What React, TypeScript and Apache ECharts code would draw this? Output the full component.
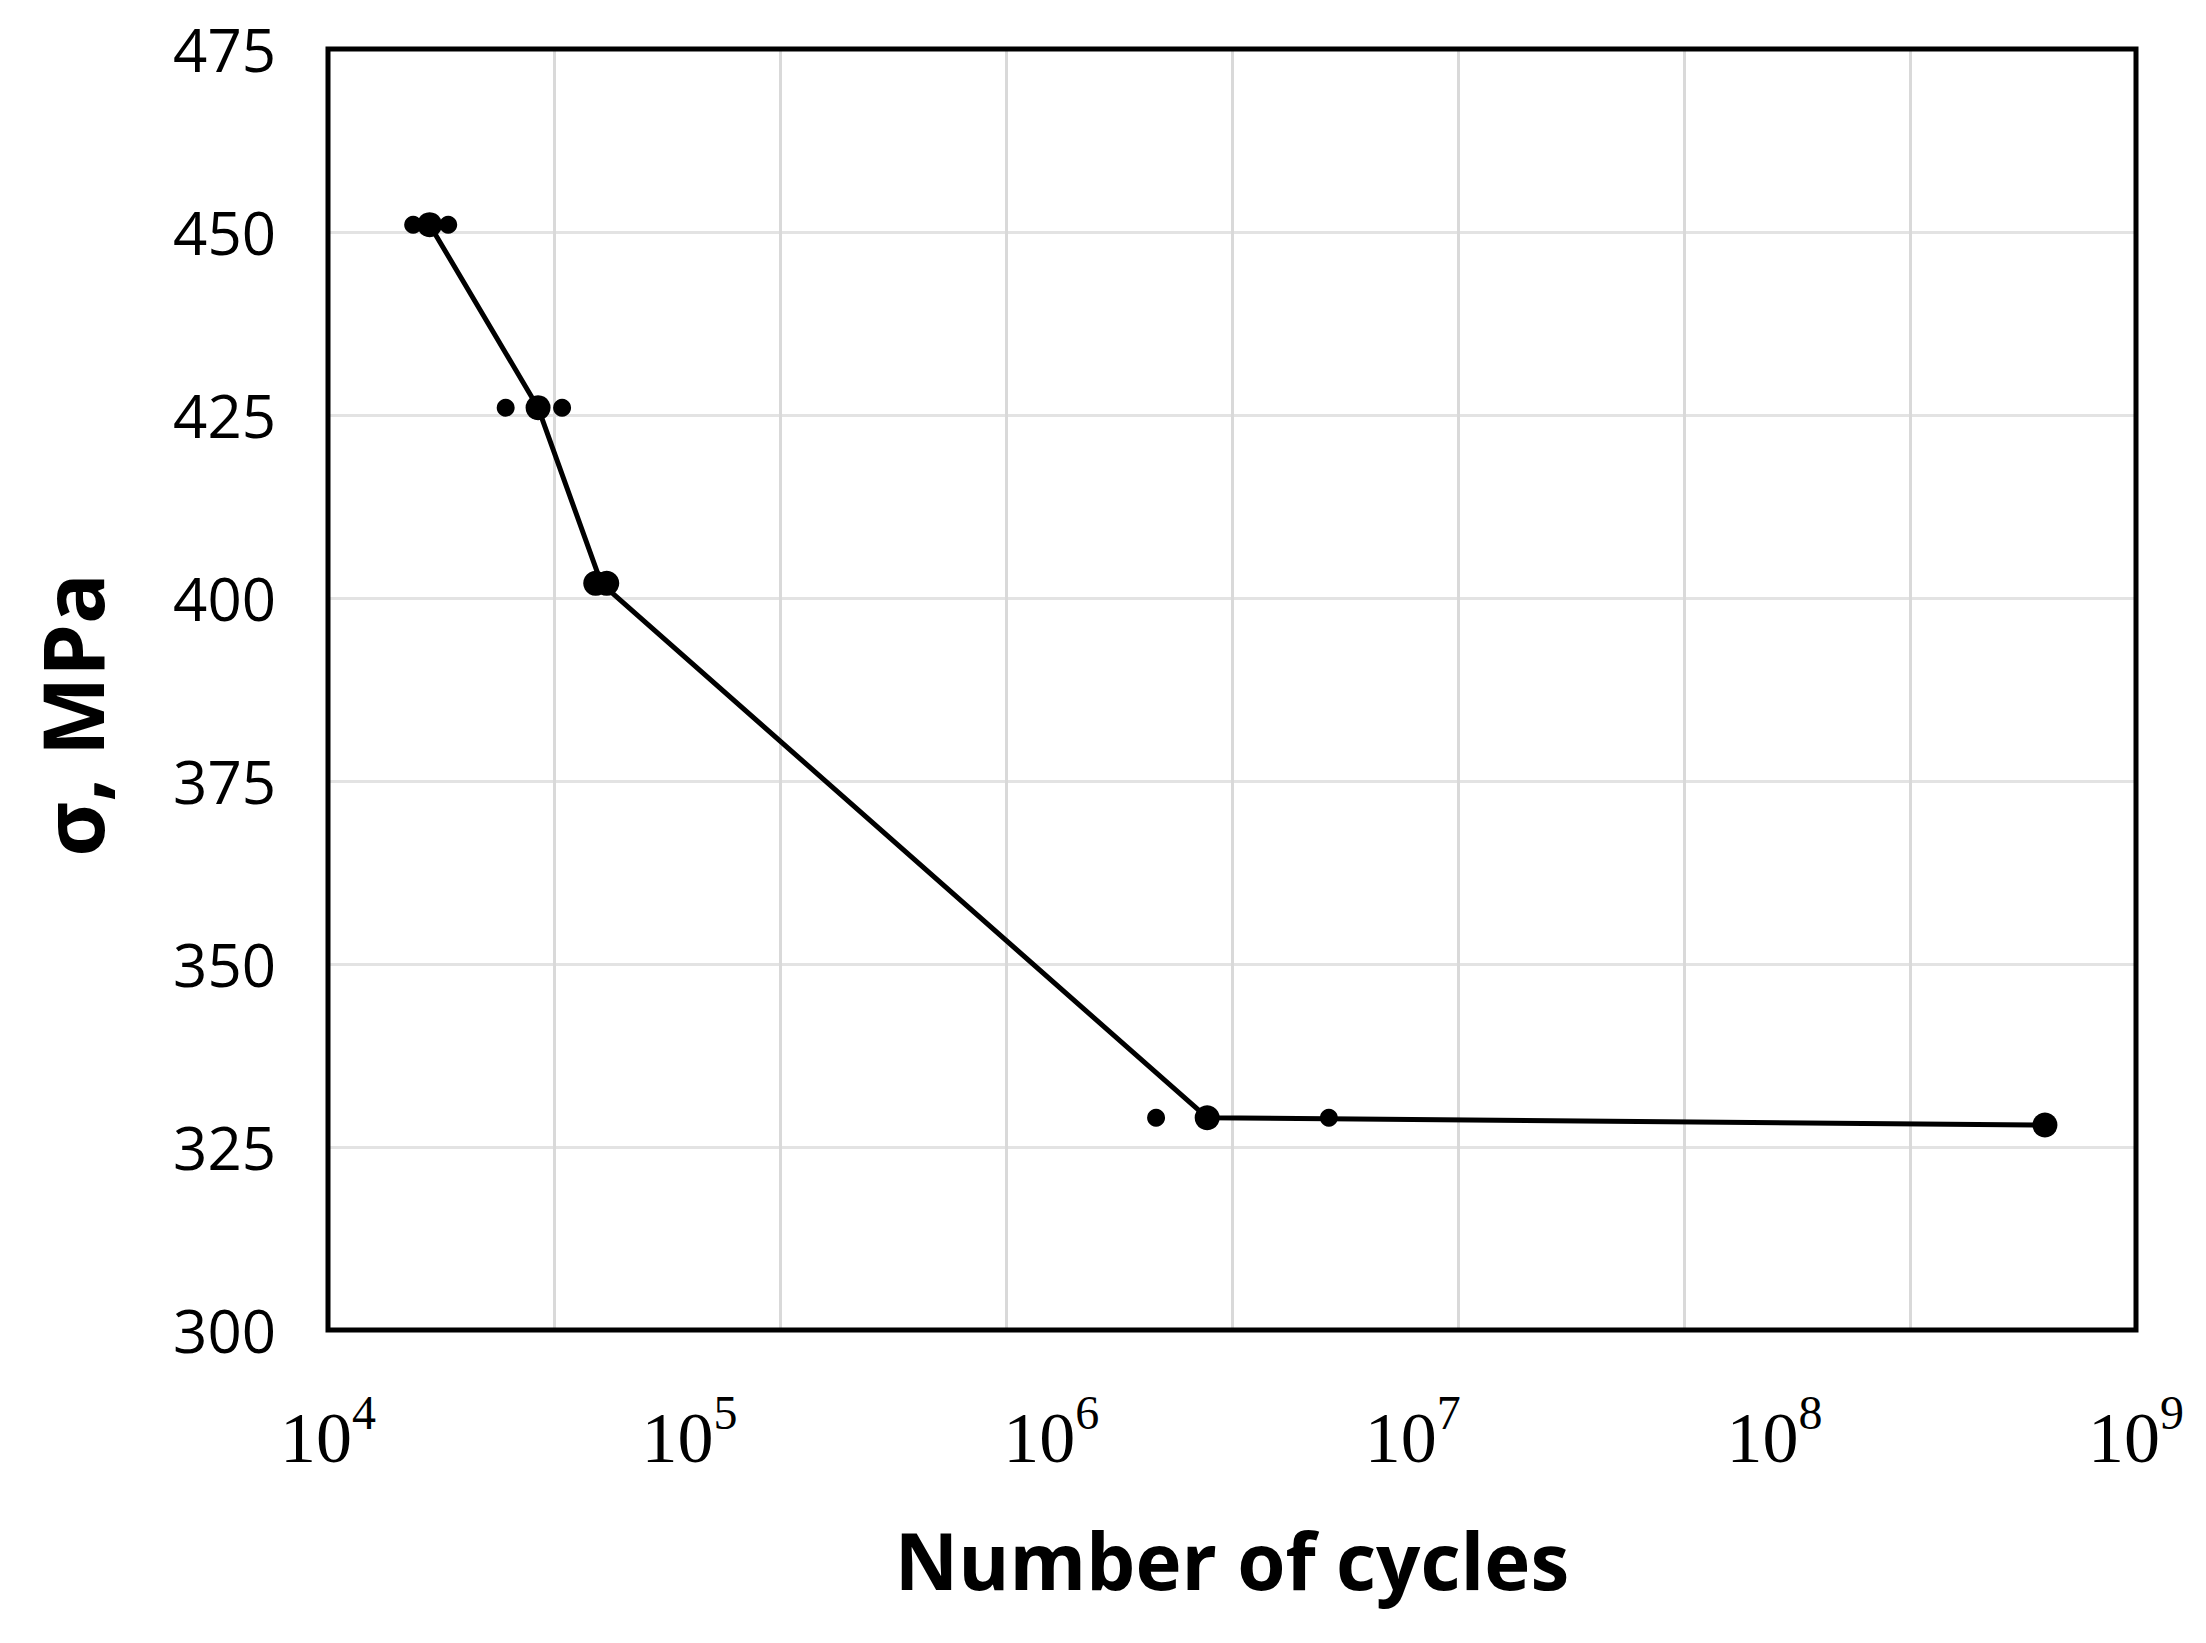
import React, { useEffect, useRef } from "react";
import * as echarts from "echarts";

// Mean curve (S-N line)
const lineCycles = [19100, 38100, 57000, 2700000, 560000000];
const lineStress = [451, 426, 402, 329, 328];
// Individual test results (small markers)
const smallCycles = [17200, 21500, 31000, 44400, 1950000, 5860000];
const smallStress = [451, 451, 426, 426, 329, 329];
// Individual test results (large markers)
const bigCycles = [19100, 38100, 55000, 59000, 2700000, 560000000];
const bigStress = [451, 426, 402, 402, 329, 328];
// Axis ticks
const xExponents = [4, 5, 6, 7, 8, 9];
const yTicks = [300, 325, 350, 375, 400, 425, 450, 475];
const gridDivisions = 8;

const xTitle = "Number of cycles";
const yTitle = "σ, MPa";

export default function App() {
  const ref = useRef<HTMLDivElement>(null);
  useEffect(() => {
    if (!ref.current) return;
    const chart = echarts.init(ref.current, undefined, { renderer: "svg" });
    const pair = (xs: number[], ys: number[]) => xs.map((x, i) => [x, ys[i]]);
    const sans = "'Open Sans', 'Liberation Sans', sans-serif";
    chart.setOption({
      animation: false,
      backgroundColor: "#fff",
      grid: {
        left: 328,
        right: 70,
        top: 49,
        bottom: 313,
        show: true,
        borderColor: "#000",
        borderWidth: 5,
        z: 3,
      },
      xAxis: [
        {
          type: "log",
          logBase: 10,
          min: Math.pow(10, xExponents[0]),
          max: Math.pow(10, xExponents[xExponents.length - 1]),
          axisLine: { show: false },
          axisTick: { show: false },
          splitLine: { show: false },
          axisLabel: {
            show: true,
            margin: 58,
            showMinLabel: true,
            showMaxLabel: true,
            formatter: (v: number) => `{n|10}{s|${Math.round(Math.log10(v))}}`,
            rich: {
              n: {
                fontFamily: "'Liberation Serif', 'DejaVu Serif', serif",
                fontSize: 72,
                lineHeight: 86,
                color: "#000",
                verticalAlign: "bottom",
              },
              s: {
                fontFamily: "'Liberation Serif', 'DejaVu Serif', serif",
                fontSize: 48,
                lineHeight: 48,
                color: "#000",
                verticalAlign: "top",
              },
            },
          },
        },
        {
          type: "value",
          position: "top",
          min: 0,
          max: gridDivisions,
          interval: 1,
          axisLine: { show: false },
          axisTick: { show: false },
          axisLabel: { show: false },
          splitLine: {
            show: true,
            showMinLine: false,
            showMaxLine: false,
            lineStyle: { color: "#d9d9d9", width: 3 },
          },
        },
      ],
      yAxis: {
        type: "value",
        min: yTicks[0],
        max: yTicks[yTicks.length - 1],
        interval: yTicks[1] - yTicks[0],
        axisLine: { show: false },
        axisTick: { show: false },
        axisLabel: {
          margin: 52,
          fontFamily: sans,
          fontSize: 60,
          color: "#000",
          padding: [12, 0, 0, 0],
        },
        splitLine: {
          show: true,
          showMinLine: false,
          showMaxLine: false,
          lineStyle: { color: "#e3e3e3", width: 3 },
        },
      },
      graphic: [
        {
          type: "text",
          x: 1232,
          y: 1560,
          style: {
            text: xTitle,
            font: `bold 78px ${sans}`,
            fill: "#000",
            align: "center",
            verticalAlign: "middle",
          },
        },
        {
          type: "text",
          x: 71,
          y: 715,
          rotation: Math.PI / 2,
          style: {
            text: yTitle,
            font: `bold 84px ${sans}`,
            fill: "#000",
            align: "center",
            verticalAlign: "middle",
          },
        },
      ],
      series: [
        {
          type: "line",
          xAxisIndex: 0,
          data: pair(lineCycles, lineStress),
          showSymbol: false,
          symbol: "none",
          lineStyle: { color: "#000", width: 5 },
          z: 4,
        },
        {
          type: "scatter",
          xAxisIndex: 0,
          data: pair(smallCycles, smallStress),
          symbol: "circle",
          symbolSize: 18,
          itemStyle: { color: "#000", opacity: 1 },
          z: 5,
        },
        {
          type: "scatter",
          xAxisIndex: 0,
          data: pair(bigCycles, bigStress),
          symbol: "circle",
          symbolSize: 25,
          itemStyle: { color: "#000", opacity: 1 },
          z: 5,
        },
      ],
    });
    return () => chart.dispose();
  }, []);
  return (
    <div
      ref={ref}
      style={{ position: "fixed", left: 0, top: 0, width: 2206, height: 1643, background: "#fff" }}
    />
  );
}
